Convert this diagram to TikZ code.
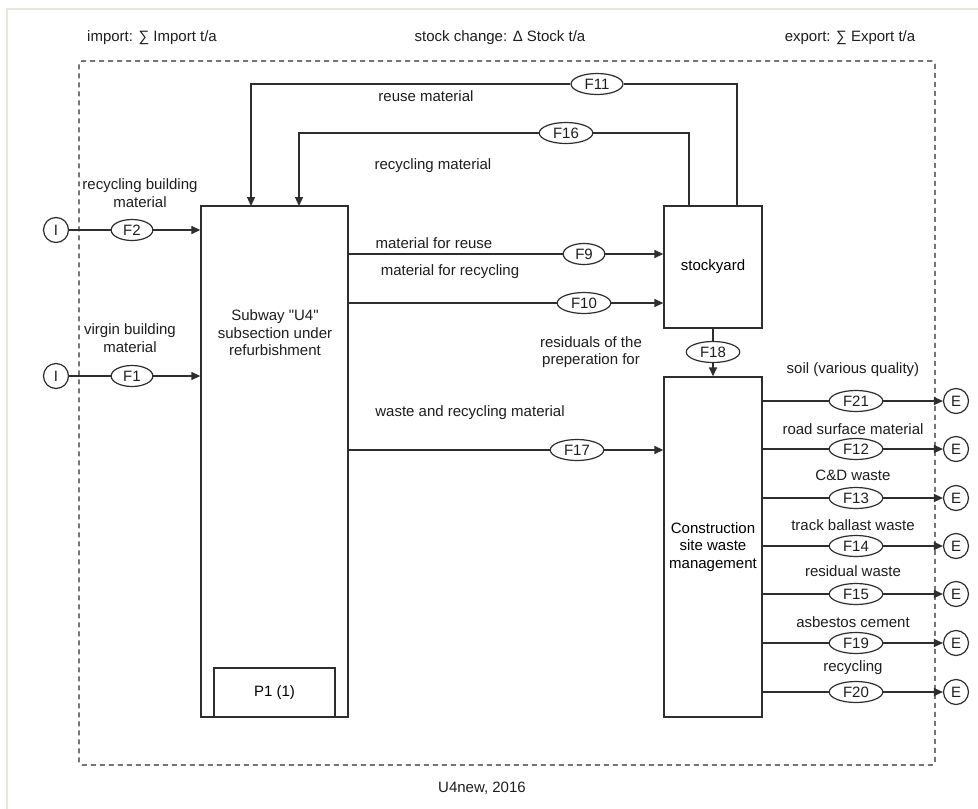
\documentclass[tikz,border=0pt]{standalone}
\usepackage{fontspec}
\setmainfont{Liberation Sans}[Ligatures=TeXOff]
\usetikzlibrary{arrows.meta,shapes.geometric}
\definecolor{ln}{HTML}{2E2E2E}
\definecolor{tx}{HTML}{1E1E1E}
\definecolor{frm}{HTML}{E6E7D9}
\begin{document}
\begin{tikzpicture}[x=1pt,y=-1pt,
  font=\fontsize{15}{17.5}\selectfont,
  proc/.style={draw=ln, line width=1.3pt, fill=white, inner sep=0pt},
  flow/.style={ellipse, draw=ln, line width=1.2pt, fill=white, text=tx,
    inner xsep=6pt, inner ysep=0pt, minimum height=21pt},
  term/.style={circle, draw=ln, line width=1.2pt, fill=white, text=tx,
    minimum size=25pt, inner sep=0pt},
  conn/.style={draw=ln, line width=1.3pt},
  arr/.style={conn, -{Triangle[length=9pt,width=8pt]}},
  lbl/.style={text=tx, inner sep=0pt, align=center}]

% canvas and page frame
\fill[white] (0,0) rectangle (978,809);
\useasboundingbox (0,0) rectangle (978,809);
\draw[frm, line width=2pt] (7,809) -- (7,9) -- (978,9);

% system boundary
\node[draw=ln, line width=1.1pt, dash pattern=on 5pt off 4pt, rounded corners=3pt,
  minimum width=856pt, minimum height=704pt, inner sep=0pt] (sys) at (507,413) {};

% header and footer texts
\node[lbl] (imp) at (152,38) {import: ∑ Import t/a};
\node[lbl] (stk) at (500,38) {stock change: Δ Stock t/a};
\node[lbl] (exp) at (850,38) {export: ∑ Export t/a};
\node[lbl] (yr)  at (482,788) {U4new, 2016};

% processes
\node[proc, minimum width=147pt, minimum height=511pt] (sub) at (274.5,461.5) {};
\node[lbl] (subtxt) at (275,333) {Subway "U4"\\subsection under\\refurbishment};
\node[proc, minimum width=121pt, minimum height=49pt] (p1) at (274.5,692.5) {P1 (1)};
\node[proc, minimum width=98pt, minimum height=122pt] (stock) at (713,267) {stockyard};
\node[proc, minimum width=98pt, minimum height=340pt, align=center] (cswm) at (713,547)
  {Construction\\site waste\\management};

% bend points of the return loops
\coordinate (t11) at (251,206);
\coordinate (t16) at (299,206);
\coordinate (s11) at (737,206);
\coordinate (s16) at (689,206);

% imports
\node[term] (i2) at (56,230) {I};
\node[term] (i1) at (56,376) {I};
\node[flow] (f2) at (132,230) {F2};
\node[flow] (f1) at (132,376) {F1};
\draw[conn] (i2) -- (f2);
\draw[arr] (f2) -- (f2 -| sub.west);
\draw[conn] (i1) -- (f1);
\draw[arr] (f1) -- (f1 -| sub.west);
\node[lbl] (l2) at (140,193) {recycling building\\material};
\node[lbl] (l1) at (130,338) {virgin building\\material};

% return flows from the stockyard
\node[flow] (f11) at (597,84) {F11};
\node[flow] (f16) at (566,133) {F16};
\draw[conn] (s11) |- (f11);
\draw[arr] (f11) -| (t11);
\draw[conn] (s16) |- (f16);
\draw[arr] (f16) -| (t16);
\node[lbl] (lreuse) at (426,96) {reuse material};
\node[lbl] (lrec) at (433,166) {recycling material};

% flows to the stockyard
\node[flow] (f9) at (584,254) {F9};
\node[flow] (f10) at (584,303) {F10};
\draw[conn] (f9 -| sub.east) -- (f9);
\draw[arr] (f9) -- (f9 -| stock.west);
\draw[conn] (f10 -| sub.east) -- (f10);
\draw[arr] (f10) -- (f10 -| stock.west);
\node[lbl] (l9) at (434,243) {material for reuse};
\node[lbl] (l10) at (450,272) {material for recycling};

% flows to the waste management
\node[flow] (f17) at (577,450) {F17};
\draw[conn] (f17 -| sub.east) -- (f17);
\draw[arr] (f17) -- (f17 -| cswm.west);
\node[lbl] (l17) at (470,413) {waste and recycling material};
\node[flow] (f18) at (713,352) {F18};
\draw[conn] (stock.south) -- (f18);
\draw[arr] (f18) -- (cswm.north);
\node[lbl] (l18) at (591,352) {residuals of the\\preperation for};

% exports
\foreach \n/\y/\t/\ty in {21/401/soil (various quality)/370,
                          12/449/road surface material/429,
                          13/498/C\&D waste/475,
                          14/546/track ballast waste/525,
                          15/594/residual waste/571,
                          19/643/asbestos cement/622,
                          20/692/recycling/668}{
  \node[flow] (f\n) at (856,\y) {F\n};
  \node[term] (e\n) at (956,\y) {E};
  \draw[conn] (f\n -| cswm.east) -- (f\n);
  \draw[arr] (f\n) -- (e\n);
  \node[lbl] (l\n) at (853,\ty) {\t};
}
\end{tikzpicture}
\end{document}
